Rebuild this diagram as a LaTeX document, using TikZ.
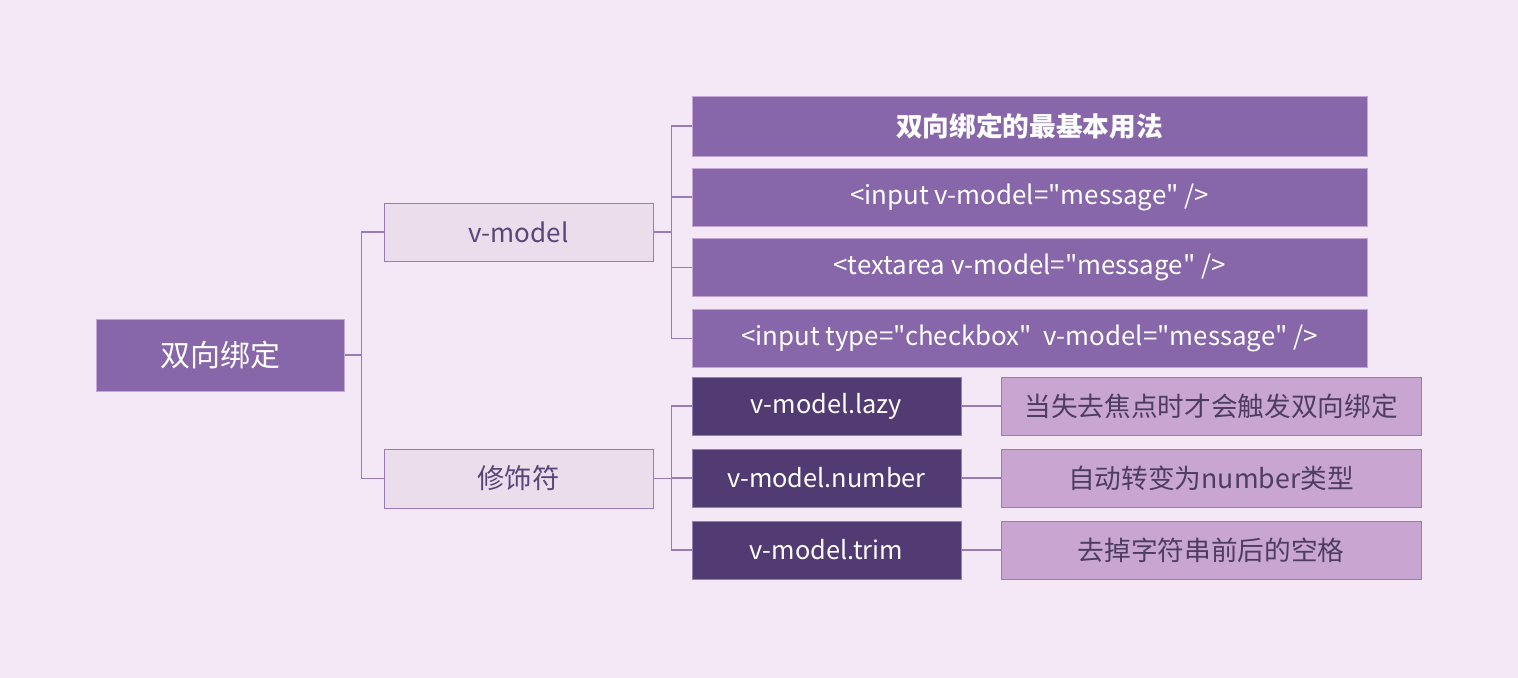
\documentclass[tikz,border=0pt]{standalone}
\usepackage{fontspec}
\setmainfont{Noto Sans CJK SC}[Ligatures=TeXOff]
\definecolor{bg}{HTML}{F4E8F6}
\definecolor{mid}{HTML}{8767A9}
\definecolor{midline}{HTML}{C3A6D6}
\definecolor{light}{HTML}{EBDDEB}
\definecolor{dark}{HTML}{523A72}
\definecolor{desc}{HTML}{C9A6D2}
\definecolor{ln}{HTML}{9A7BBA}
\definecolor{dtext}{HTML}{5B4478}
\definecolor{desctext}{HTML}{4E3D63}
\begin{document}
\begin{tikzpicture}[x=0.75pt,y=-0.75pt,
  box/.style={rectangle,inner sep=0pt,line width=0.75pt,align=center},
  rootbox/.style={box,fill=mid,draw=midline,text=white,font=\fontsize{22.5}{26}\selectfont,minimum width=186pt,minimum height=54pt},
  subbox/.style={box,fill=light,draw=ln,text=dtext,font=\fontsize{19.5}{23}\selectfont,minimum width=201.75pt,minimum height=43.5pt},
  usebox/.style={box,fill=mid,draw=midline,text=white,font=\fontsize{19.4}{22}\selectfont,minimum width=506.25pt,minimum height=44pt},
  modbox/.style={box,fill=dark,draw=ln,text=white,font=\fontsize{19}{22}\selectfont,minimum width=201.75pt,minimum height=43.5pt},
  descbox/.style={box,fill=desc,draw=ln,text=desctext,font=\fontsize{20}{23}\selectfont,minimum width=315pt,minimum height=43.5pt},
  conn/.style={draw=ln,line width=0.9pt}]
\path[fill=bg] (0,0) rectangle (1518,678);
\node[rootbox] (root) at (220,355) {双向绑定};
\node[subbox] (vm) at (518.5,232) {v-model};
\node[subbox,minimum height=44.25pt,font=\fontsize{20.5}{23}\selectfont] (xsf) at (518.5,478.5) {修饰符};
\node[usebox,minimum height=45pt,font=\fontsize{20}{23}\selectfont\bfseries] (a1) at (1029.5,126) {双向绑定的最基本用法};
\node[usebox,minimum height=43.5pt] (a2) at (1029.5,197) {<input v-model="message" />};
\node[usebox] (a3) at (1029.5,267.5) {<textarea v-model="message" />};
\node[usebox] (a4) at (1029.5,338.5) {<input type="checkbox"\ \ v-model="message" />};
\node[modbox] (m1) at (826.5,406) {v-model.lazy};
\node[modbox] (m2) at (826.5,478) {v-model.number};
\node[modbox] (m3) at (826.5,550) {v-model.trim};
\node[descbox] (d1) at (1211,406) {当失去焦点时才会触发双向绑定};
\node[descbox] (d2) at (1211,478) {自动转变为number类型};
\node[descbox] (d3) at (1211,550) {去掉字符串前后的空格};
\foreach \t in {vm,xsf} \draw[conn] (root.east) -- ++(17,0) |- (\t.west);
\foreach \t in {a1,a2,a3,a4} \draw[conn] (vm.east) -- ++(18,0) |- (\t.west);
\foreach \t in {m1,m2,m3} \draw[conn] (xsf.east) -- ++(18,0) |- (\t.west);
\draw[conn] (m1.east) -- (d1.west);
\draw[conn] (m2.east) -- (d2.west);
\draw[conn] (m3.east) -- (d3.west);
\end{tikzpicture}
\end{document}
